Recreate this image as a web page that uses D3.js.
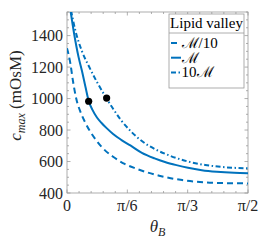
<!DOCTYPE html>
<html>
<head>
<meta charset="utf-8">
<script src="https://cdn.jsdelivr.net/npm/d3@7"></script>
<style>
  body { margin: 0; background: #fff; }
</style>
</head>
<body>
<div id="chart"></div>
<script>
// curve data, theta_B in radians, c_max in mOsM
var thetaLow = [0, 0.03, 0.05, 0.08, 0.12, 0.16, 0.2, 0.25, 0.3, 0.4, 0.5, 0.6, 0.7, 0.8, 0.9, 1.0, 1.1, 1.2, 1.35, 1.5708];
var cLow = [1320, 1220, 1120, 1000, 910, 845, 792, 738, 693, 630, 585, 555, 530, 510, 494, 482, 473, 467, 463, 461];

var thetaMid = [0.03, 0.06, 0.10, 0.13, 0.16, 0.188, 0.22, 0.26, 0.30, 0.344, 0.40, 0.47, 0.55, 0.65, 0.76, 0.85, 0.95, 1.05, 1.17, 1.3, 1.45, 1.5708];
var cMid = [1560, 1420, 1265, 1175, 1075, 985, 930, 880, 845, 812, 775, 738, 702, 655, 620, 597, 577, 560, 545, 535, 528, 525];

var thetaHigh = [0.035, 0.07, 0.13, 0.19, 0.26, 0.344, 0.40, 0.47, 0.55, 0.65, 0.76, 0.9, 1.05, 1.2, 1.35, 1.5708];
var cHigh = [1560, 1440, 1300, 1205, 1105, 1000, 935, 862, 795, 730, 680, 635, 600, 578, 565, 557];

// black markers
var markTheta = [0.188, 0.344];
var markC = [983, 1003];

var legendLabels = ["\u2133/10", "\u2133", "10\u2133"];
var xTickLabels = ["0", "\u03c0/6", "\u03c0/3", "\u03c0/2"];
var yTicks = [400, 600, 800, 1000, 1200, 1400];

var margin = {top: 12, right: 18, bottom: 49, left: 67},
    width = 266 - margin.left - margin.right,
    height = 242 - margin.top - margin.bottom;

var FONT = "Liberation Serif";

var svg = d3.select("#chart")
  .append("svg")
    .attr("width", 266)
    .attr("height", 242)
  .append("g")
    .attr("transform", "translate(" + margin.left + "," + margin.top + ")");

var x = d3.scaleLinear().domain([0, Math.PI / 2]).range([0, width]);
var y = d3.scaleLinear().domain([400, 1550]).range([height, 0]);

var blue = "#0072BD";
var axisCol = "#9a9a9a";
var textCol = "#262626";

svg.append("clipPath").attr("id", "clip")
  .append("rect").attr("width", width).attr("height", height);

// minor ticks
var xMinor = d3.range(0, 16).map(function(i) { return i * Math.PI / 30; });
var yMinor = d3.range(400, 1551, 50);
var g = svg.append("g").attr("stroke", axisCol).attr("stroke-width", 0.8);
xMinor.forEach(function(t) {
  var len = (Math.round(t / (Math.PI / 30)) % 5 === 0) ? 3.5 : 2;
  g.append("line").attr("x1", x(t)).attr("x2", x(t)).attr("y1", height).attr("y2", height - len);
  g.append("line").attr("x1", x(t)).attr("x2", x(t)).attr("y1", 0).attr("y2", len);
});
yMinor.forEach(function(v) {
  var len = (v % 200 === 0) ? 3.5 : 2;
  g.append("line").attr("x1", 0).attr("x2", len).attr("y1", y(v)).attr("y2", y(v));
  g.append("line").attr("x1", width).attr("x2", width - len).attr("y1", y(v)).attr("y2", y(v));
});

// box
svg.append("rect")
  .attr("width", width).attr("height", height)
  .attr("fill", "none").attr("stroke", axisCol).attr("stroke-width", 0.8);

// tick labels
xTickLabels.forEach(function(lab, i) {
  svg.append("text")
    .attr("x", x(i * Math.PI / 6))
    .attr("y", height + 18)
    .attr("text-anchor", "middle")
    .attr("font-family", FONT)
    .attr("font-size", 16)
    .attr("fill", textCol)
    .text(lab);
});
svg.selectAll(".ytick")
  .data(yTicks)
  .enter()
  .append("text")
    .attr("x", -4)
    .attr("y", function(d) { return y(d) + 5.5; })
    .attr("text-anchor", "end")
    .attr("font-family", FONT)
    .attr("font-size", 16)
    .attr("fill", textCol)
    .text(function(d) { return d; });

// axis labels
var xl = svg.append("text")
  .attr("x", width / 2)
  .attr("y", height + 39)
  .attr("text-anchor", "middle")
  .attr("font-family", FONT)
  .attr("font-size", 17)
  .attr("fill", textCol);
xl.append("tspan").attr("font-style", "italic").text("\u03b8");
xl.append("tspan").attr("dy", 4).attr("font-size", 12).attr("font-style", "italic").text("B");

var yl = svg.append("text")
  .attr("transform", "translate(-46," + (height / 2 - 7) + ")rotate(-90)")
  .attr("text-anchor", "middle")
  .attr("font-family", FONT)
  .attr("font-size", 17)
  .attr("fill", textCol);
yl.append("tspan").attr("font-style", "italic").text("c");
yl.append("tspan").attr("dy", 4).attr("font-size", 12).attr("font-style", "italic").text("max");
yl.append("tspan").attr("dy", -4).text(" (mOsM)");

// curves
var line = d3.line()
  .x(function(d) { return x(d[0]); })
  .y(function(d) { return y(d[1]); })
  .curve(d3.curveMonotoneX);

var series = [
  {t: thetaLow, c: cLow, dash: "6,4"},
  {t: thetaMid, c: cMid, dash: null},
  {t: thetaHigh, c: cHigh, dash: "5,2.5,1.5,2.5"}
];
var curves = svg.append("g").attr("clip-path", "url(#clip)");
series.forEach(function(s) {
  curves.append("path")
    .datum(d3.zip(s.t, s.c))
    .attr("d", line)
    .attr("fill", "none")
    .attr("stroke", blue)
    .attr("stroke-width", 2)
    .attr("stroke-dasharray", s.dash);
});

svg.selectAll(".mark")
  .data(d3.zip(markTheta, markC))
  .enter()
  .append("circle")
    .attr("cx", function(d) { return x(d[0]); })
    .attr("cy", function(d) { return y(d[1]); })
    .attr("r", 3.6)
    .attr("fill", "#000");

// legend
var lx = 169 - margin.left, ly = 14 - margin.top, lw = 75, lh = 74;
var leg = svg.append("g").attr("transform", "translate(" + lx + "," + ly + ")");
leg.append("rect").attr("width", lw).attr("height", lh)
  .attr("fill", "#fff").attr("stroke", axisCol).attr("stroke-width", 0.8);
leg.append("line").attr("x1", 0).attr("x2", lw).attr("y1", 19).attr("y2", 19)
  .attr("stroke", axisCol).attr("stroke-width", 0.8);
leg.append("text")
  .attr("x", lw / 2).attr("y", 14)
  .attr("text-anchor", "middle")
  .attr("font-family", FONT)
  .attr("font-size", 15)
  .attr("fill", "#000")
  .text("Lipid valley");
legendLabels.forEach(function(lab, i) {
  var yy = 29 + i * 14.7;
  leg.append("line")
    .attr("x1", 2).attr("x2", 12).attr("y1", yy).attr("y2", yy)
    .attr("stroke", blue).attr("stroke-width", 2)
    .attr("stroke-dasharray", series[i].dash);
  leg.append("text")
    .attr("x", 12.5).attr("y", yy + 5)
    .attr("font-family", FONT)
    .attr("font-size", 15)
    .attr("fill", "#000")
    .text(lab);
});
</script>
</body>
</html>
